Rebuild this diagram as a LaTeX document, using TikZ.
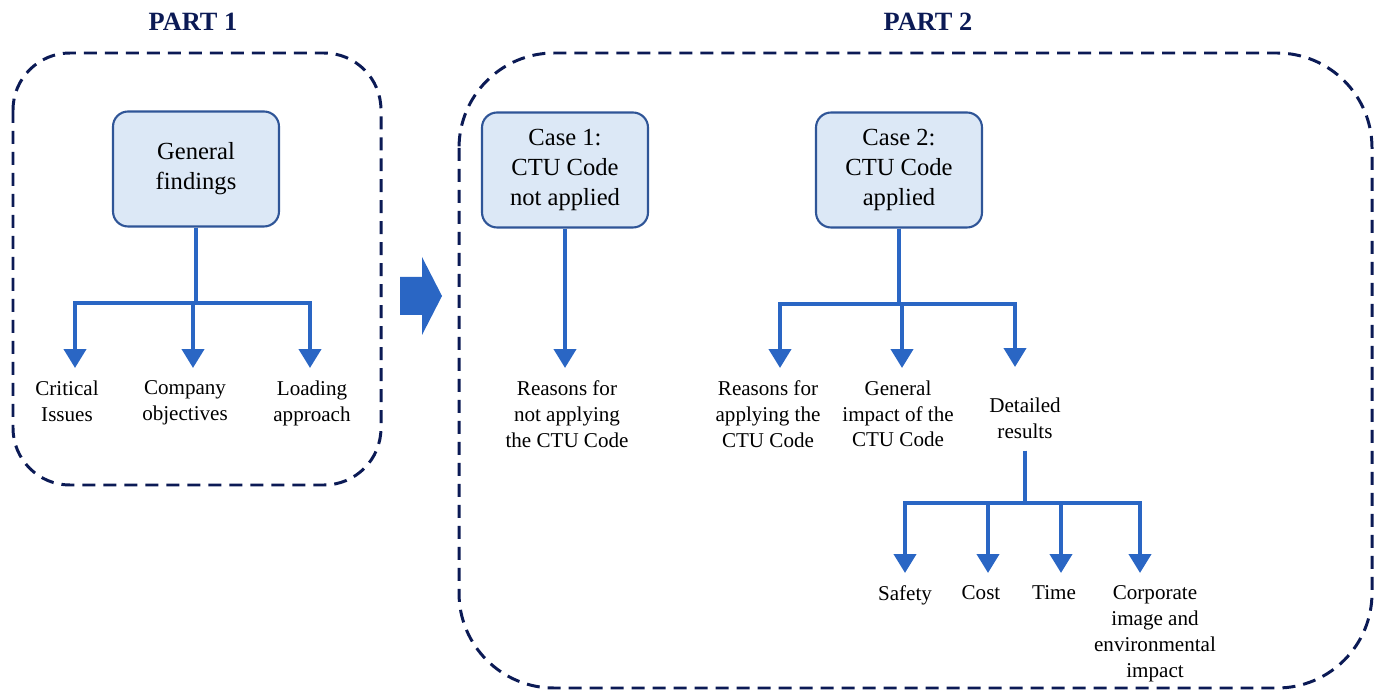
\documentclass[tikz,border=0pt]{standalone}
\usepackage{fontspec}
\setmainfont{Liberation Serif}
\usepackage{tikz}
\usetikzlibrary{arrows.meta}
\definecolor{navy}{HTML}{0B1A55}
\definecolor{flowblue}{HTML}{2A66C4}
\definecolor{boxfill}{HTML}{DCE8F6}
\definecolor{boxline}{HTML}{2F5597}
\tikzstyle{casebox}=[draw=boxline,fill=boxfill,line width=1.2pt,rounded corners=0.3cm,minimum width=3.32cm,minimum height=2.3cm,align=center,font=\fontsize{14}{17}\selectfont]
\tikzstyle{leaf}=[align=center,inner ysep=7pt,anchor=north,font=\fontsize{12}{14.7}\selectfont]
\tikzstyle{flowarrow}=[draw=flowblue,line width=2.3pt,-{Triangle[width=0.44cm,length=0.38cm]}]
\tikzstyle{partframe}=[draw=navy,line width=1.7pt,dash pattern=on 0.26cm off 0.16cm]
\tikzstyle{parttitle}=[text=navy,font=\fontsize{15}{18}\bfseries\selectfont]

\begin{document}
\begin{tikzpicture}[x=0.02cm,y=-0.02cm]
    \useasboundingbox (0,0) rectangle (1381,695);
    % Frames of the two parts
    \draw[partframe,rounded corners=1.14cm] (13,53) rectangle (381,485);
    \draw[partframe,rounded corners=1.9cm] (459,53) rectangle (1372,688);
    \node[parttitle] (p1) at (193,22) {PART 1};
    \node[parttitle] (p2) at (928,22) {PART 2};

    % Part 1: general findings
    \node[casebox] (gf) at (196,169) {General\\findings};
    \foreach \pos/\name/\txt in {{(67,368)/ci/Critical\\Issues},{(185,368)/cob/Company\\objectives},{(312,368)/la/Loading\\approach}}
        \node[leaf] (\name) at \pos {\txt};
    \foreach \name/\dx in {ci/8,cob/8,la/-2}
        \draw[flowarrow] (gf.south) -- ++(0,75) -| ([xshift=\dx*0.02cm]\name.north);

    % Block arrow from part 1 to part 2
    \fill[flowblue] (400,277) -- (422,277) -- (422,257) -- (442,296) -- (422,335) -- (422,315) -- (400,315) -- cycle;

    % Part 2, case 1
    \node[casebox] (c1) at (565,170) {Case 1:\\CTU Code\\not applied};
    \node[leaf] (r1) at (567,368) {Reasons for\\not applying\\the CTU Code};
    \draw[flowarrow] (c1.south) -- (c1.south |- r1.north);

    % Part 2, case 2
    \node[casebox] (c2) at (899,170) {Case 2:\\CTU Code\\applied};
    \foreach \pos/\name/\txt in {{(768,368)/ra/Reasons for\\applying the\\CTU Code},{(898,368)/gi/General\\impact of the\\CTU Code},{(1025,385)/dr/Detailed\\results}}
        \node[leaf] (\name) at \pos {\txt};
    \foreach \name/\dx in {ra/12,gi/4}
        \draw[flowarrow] (c2.south) -- ++(0,75) -| ([xshift=\dx*0.02cm]\name.north);
    \draw[flowarrow,shorten >=0.36cm] (c2.south) -- ++(0,75) -| ([xshift=-10*0.02cm]dr.north);

    % Detailed results
    \foreach \pos/\name/\txt in {{(905,573)/sf/Safety},{(981,573)/co/Cost},{(1054,573)/ti/Time},{(1155,573)/cp/Corporate\\image and\\environmental\\impact}}
        \node[leaf] (\name) at \pos {\txt};
    \foreach \name/\dx in {sf/0,co/7,ti/7,cp/-15}
        \draw[flowarrow] (dr.south) -- ++(0,52) -| ([xshift=\dx*0.02cm]\name.north);
\end{tikzpicture}
\end{document}
